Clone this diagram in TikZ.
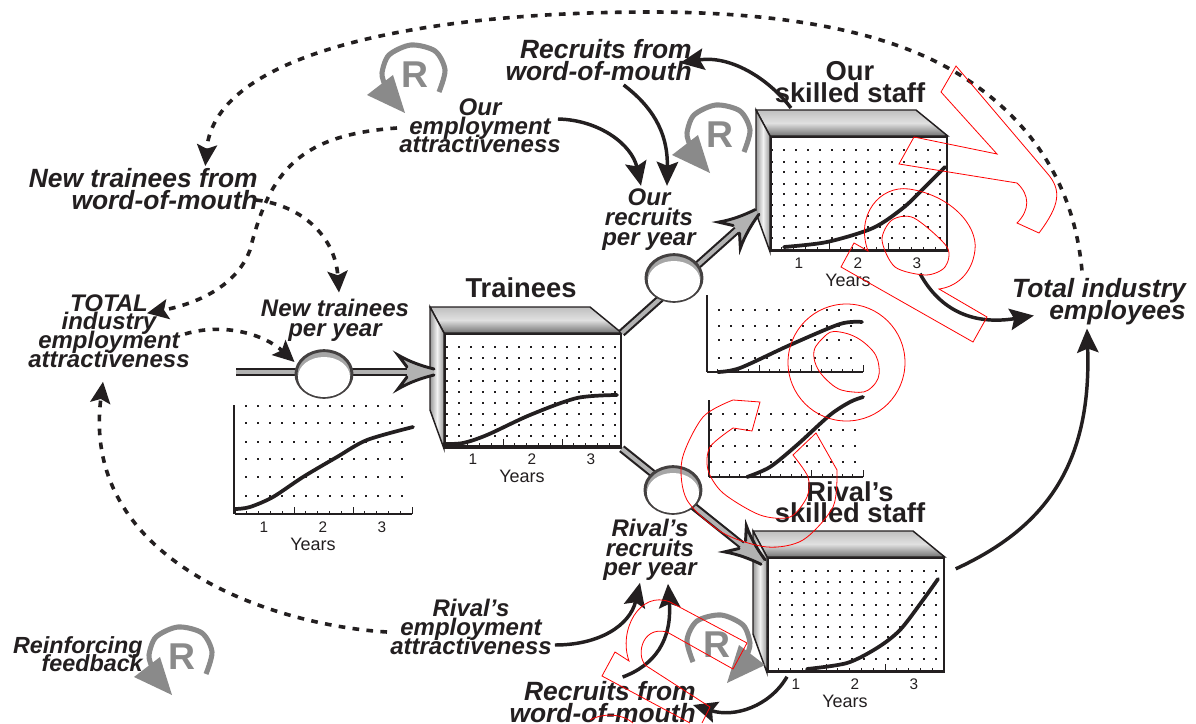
\documentclass[tikz,border=0pt]{standalone}
\usepackage{fontspec}
\setmainfont{Liberation Sans}
\usetikzlibrary{arrows.meta,calc,shapes.geometric}
\definecolor{ink}{HTML}{231F20}
\definecolor{signgray}{HTML}{8A8A8A}
\lineskiplimit=-30pt
\newcommand{\dotgrid}[2]{\foreach \yy in {#2} \foreach \xx in {#1} \fill[ink] (\xx-1.2,\yy-1.2) rectangle ++(2.5,2.5);}
\newcommand{\tickline}[3]{%
  \draw[ink, line width=1.3pt] (#1,#3) -- (#2,#3);
  \foreach \t in {0,...,15} {
    \pgfmathsetmacro{\tx}{#1+(#2-#1)*\t/15}
    \pgfmathsetmacro{\th}{ifthenelse(mod(\t,5)==0,7,3)}
    \draw[ink, line width=0.6pt] (\tx,#3) -- ++(0,-\th);
  }}
\newcommand{\yearscale}[3]{%
  \tickline{#2}{#2+177}{#3}
  \node[digit] (#1d1) at (#2+29,#3+13) {1};
  \node[digit] (#1d2) at (#2+88,#3+13) {2};
  \node[digit] (#1d3) at (#2+147,#3+13) {3};
  \node[yearlab] (#1yr) at (#2+78,#3+30) {Years};}
\newcommand{\stockbox}[3]{%
  \node[stockface] (#1) at (#2,#3) {};
  \draw[topface] (#1.north west) -- ++(-14,-26) -- ++(160,0) -- (#1.north east) -- cycle;
  \draw[sideface] (#1.north west) -- ++(-14,-26) -- ++(0,103) -- (#1.south west) -- cycle;}
\newcommand{\valvering}[3]{%
  \node[valveout] (#1) at (#2,#3) {};
  \node[valvein] (#1in) at (#2,#3+3) {};}
\newcommand{\reinfsign}[3]{%
  \pic[xscale=#3] at (#2) {reinfarrow};
  \node[reinftxt] (#1) at (#2) {R};}
\begin{document}
\begin{tikzpicture}[x=0.75pt, y=-0.75pt,
  flowtxt/.style={font=\bfseries\itshape\fontsize{18}{14}\selectfont, align=center, text=ink, inner sep=0pt},
  bigtxt/.style={font=\bfseries\itshape\fontsize{19.8}{16.5}\selectfont, align=right, anchor=east, text=ink, inner sep=0pt},
  stocktxt/.style={font=\bfseries\fontsize{20.5}{16}\selectfont, align=center, text=ink, inner sep=0pt},
  digit/.style={font=\fontsize{11.5}{12}\selectfont, text=ink, inner sep=0pt},
  yearlab/.style={font=\fontsize{13.5}{14}\selectfont, text=ink, inner sep=0pt},
  reinftxt/.style={font=\bfseries\fontsize{28}{28}\selectfont, text=signgray, inner sep=0pt},
  stockface/.style={rectangle, anchor=north west, draw=ink, line width=1.3pt, fill=white, inner sep=0pt, minimum width=132pt, minimum height=85.5pt},
  topface/.style={draw=ink, line width=1.1pt, top color=black!25, bottom color=black!55, middle color=black!12},
  sideface/.style={draw=ink, line width=1.1pt, left color=black!40, right color=black!40, middle color=black!5},
  valveout/.style={ellipse, draw=ink!85, line width=2.2pt, fill=black!35, inner sep=0pt, minimum width=42pt, minimum height=35pt},
  valvein/.style={ellipse, fill=white, inner sep=0pt, minimum width=39pt, minimum height=30pt},
  flowpipe/.style={draw=ink, line width=1.6pt, double=black!30, double distance=3pt},
  headline/.style={draw=ink, line width=2.2pt, line cap=round},
  curveline/.style={draw=ink, line width=2.8pt, line cap=round},
  solidlink/.style={draw=ink, line width=2.6pt, -{Stealth[length=18pt,width=16pt,inset=3pt]}},
  dashlink/.style={draw=ink, line width=2.7pt, dash pattern=on 5pt off 5.5pt, -{Stealth[length=16pt,width=15pt,inset=3pt]}},
  redline/.style={draw=red, line width=0.6pt},
  flowhead/.pic={\fill[black!30] (0,-3) .. controls (-12,-6) and (-24,-10) .. (-36,-17) -- (-27,-5) -- (-27,5) -- (-36,17) .. controls (-24,10) and (-12,6) .. (0,3) -- cycle;
    \draw[headline] (0,-3) .. controls (-12,-6) and (-24,-10) .. (-36,-17) -- (-27,-5);
    \draw[headline] (0,3) .. controls (-12,6) and (-24,10) .. (-36,17) -- (-27,5);},
  reinfarrow/.pic={\draw[draw=signgray, line width=3.8pt] plot[smooth] coordinates {(24,17) (30,-5) (20,-24) (-4,-30) (-26,-20) (-33,-2) (-30,10)};
    \fill[signgray] (-22,0) -- (-48,20) -- (-10,38) -- cycle;}]
\useasboundingbox (0,0) rectangle (1196,724);
% stocks, front face first and then their two shaded faces
\stockbox{trainees}{444}{333}
\stockbox{ourstaff}{770}{136}
\stockbox{rivalstaff}{767}{557}
\node[stocktxt] (traineeslab) at (521,288) {Trainees};
\node[stocktxt] (ourlab) at (850,82) {Our\\skilled staff};
\node[stocktxt] (rivallab) at (850,502) {Rival's\\skilled staff};
% charts
\dotgrid{447,459,...,615}{347,358,369,381,392,403,414,425,436}
\dotgrid{772,784,...,942}{150,162,172,184,194,205,216,227,238}
\dotgrid{768,780,...,940}{571,582,593,605,615,627,637,648,659}
\dotgrid{234,246,...,402}{406,423,442,459,477,496}
\dotgrid{707,719,...,852}{310,326,340,358}
\dotgrid{711,723,...,855}{414,430,446,462}
\yearscale{traineeax}{444}{446}
\yearscale{ourax}{770}{250}
\yearscale{rivalax}{767}{671}
\yearscale{newax}{235}{514}
\tickline{707}{863}{372}
\tickline{709}{863}{477}
\draw[ink, line width=0.9pt] (234,405) -- (234,514);
\draw[ink, line width=0.9pt] (707,295) -- (707,372);
\draw[ink, line width=0.9pt] (709,400) -- (709,477);
\draw[curveline] plot[smooth] coordinates {(236,509) (250,507) (273,497) (303,477) (337,457) (367,440) (413,427)};
\draw[curveline] plot[smooth] coordinates {(444,444) (463,443) (487,435) (530,415) (577,398) (617,395)};
\draw[curveline] plot[smooth] coordinates {(784,247) (827,242) (873,228) (903,208) (922,190) (945,167)};
\draw[curveline] plot[smooth] coordinates {(807,669) (847,663) (877,648) (900,630) (923,600) (938,579)};
\draw[curveline] plot[smooth] coordinates {(718,372) (740,368) (790,345) (840,324) (862,322)};
\draw[curveline] plot[smooth] coordinates {(747,477) (770,467) (797,445) (830,415) (850,402) (863,397)};
% pipes with their valves
\coordinate (inflow) at (236,372);
\coordinate (tipnew) at (434,372);
\coordinate (tipour) at (757,212);
\coordinate (tiprival) at (763,562);
\draw[flowpipe] (inflow) -- (tipnew);
\draw[flowpipe] (trainees.north east) -- (tipour);
\draw[flowpipe] (trainees.south east) -- (tiprival);
\valvering{newvalve}{324}{374}
\valvering{ourvalve}{674}{278}
\valvering{rivalvalve}{673}{490}
\pic at (tipnew) {flowhead};
\pic[rotate=40] at (tipour) {flowhead};
\pic[rotate=-40] at (tiprival) {flowhead};
% labels
\node[bigtxt] (ourword) at (692,60) {Recruits from\\word-of-mouth};
\node[bigtxt] (rivalword) at (696,702) {Recruits from\\word-of-mouth};
\node[bigtxt] (newword) at (258,189) {New trainees from\\word-of-mouth};
\node[flowtxt] (ourattr) at (480,126) {Our\\employment\\attractiveness};
\node[flowtxt] (rivalattr) at (471,627) {Rival's\\employment\\attractiveness};
\node[flowtxt] (totalattr) at (109,331) {TOTAL\\industry\\employment\\attractiveness};
\node[flowtxt, font=\bfseries\itshape\fontsize{18}{15}\selectfont] (ourrec) at (649,220) {Our\\recruits\\per year};
\node[flowtxt, font=\bfseries\itshape\fontsize{18}{14.5}\selectfont] (rivalrec) at (650,550) {Rival's\\recruits\\per year};
\node[flowtxt, font=\bfseries\itshape\fontsize{18}{15}\selectfont] (newrec) at (335,320) {New trainees\\per year};
\node[bigtxt] (totalemp) at (1186,302) {Total industry\\employees};
\node[flowtxt, align=right, anchor=east, font=\bfseries\itshape\fontsize{17.5}{13.5}\selectfont] (reinflab) at (143,654) {Reinforcing\\feedback};
% solid links
\draw[solidlink] ($(ourstaff.north west)+(21,-28)$) .. controls (768,78) and (730,55) .. ($(ourword.east)+(-12,3)$);
\draw[solidlink] ($(ourword.south)+(25,4)$) .. controls (650,105) and (668,130) .. ($(ourrec.north)+(18,-3)$);
\draw[solidlink] ($(ourattr.east)+(-3,-7)$) .. controls (600,120) and (632,145) .. ($(ourrec.north)+(-8,-3)$);
\draw[solidlink] ($(ouraxd3.south)+(3,5)$) .. controls (941,312) and (975,325) .. ($(totalemp.south west)+(22,-10)$);
\draw[solidlink] ($(rivalstaff.east)+(11,-46)$) .. controls (1040,530) and (1092,470) .. ($(totalemp.south)+(-12,3)$);
\draw[solidlink] ($(rivalstaff.south west)+(20,4)$) .. controls (770,706) and (735,718) .. ($(rivalword.east)+(-3,3)$);
\draw[solidlink] ($(rivalword.north)+(20,-4)$) .. controls (655,665) and (672,640) .. ($(rivalrec.south)+(18,3)$);
\draw[solidlink] ($(rivalattr.east)+(3,18)$) .. controls (600,645) and (630,625) .. ($(rivalrec.south)+(-10,2)$);
% dashed links
\draw[dashlink] ($(totalemp.north)+(-17,-8)$) .. controls (1075,195) and (1040,125) .. (960,75) .. controls (880,25) and (760,12) .. (650,12) .. controls (430,12) and (215,50) .. ($(newword.north)+(62,-2)$);
\draw[dashlink] ($(ourattr.west)+(-2,2)$) .. controls (300,135) and (270,170) .. (250,250) .. controls (235,290) and (190,305) .. ($(totalattr.north)+(38,19)$);
\draw[dashlink] ($(newword.east)+(-2,11)$) .. controls (300,205) and (335,235) .. ($(newrec.north)+(4,-6)$);
\draw[dashlink] ($(totalattr.east)+(-5,3)$) .. controls (225,322) and (265,335) .. ($(newvalve.west)+(0,-12)$);
\draw[dashlink] ($(rivalattr.west)+(-3,5)$) .. controls (270,625) and (80,560) .. ($(totalattr.south)+(-6,14)$);
% reinforcing signs
\coordinate (signtop) at (415,75);
\coordinate (signour) at (720,135);
\coordinate (signrival) at (717,645);
\coordinate (signkey) at (182,657);
\reinfsign{rtop}{signtop}{1}
\reinfsign{rour}{signour}{1}
\reinfsign{rrival}{signrival}{-1}
\reinfsign{rkey}{signkey}{1}
% red outline letters
\draw[redline] (956,66) -- (941,92) -- (997,154) -- (914,137) -- (899,164) -- (1017,183) .. controls (1030,195) and (1030,210) .. (1017,223) -- (1039,233) .. controls (1060,205) and (1062,190) .. (1047,173) -- cycle;
\draw[redline] (854,243) -- (868,251) .. controls (855,215) and (880,185) .. (909,189) .. controls (950,195) and (978,225) .. (975,250) .. controls (972,275) and (955,287) .. (939,289) -- (987,317) -- (973,342) -- (841,267) -- cycle;
\draw[redline] plot[smooth cycle] coordinates {(882,240) (892,220) (914,218) (947,247) (945,267) (926,275) (895,267)};
\draw[redline] (846.5,362.5) ellipse (58.5 and 58.5);
\draw[redline] plot[smooth cycle, tension=0.8] coordinates {(814,358) (823,338) (840,332) (867,345) (879,367) (872,387) (853,392) (830,383)};
\draw[redline] (760,402) -- (752,431) -- plot[smooth] coordinates {(733,428) (710,447) (708,470) (723,493) (760,515) (790,517) (807,497) (808,477) (793,455)} -- (816,433) -- plot[smooth] coordinates {(837,470) (833,507) (803,540) (767,547) (723,533) (687,500) (682,460) (703,417) (733,400)} -- cycle;
\draw[redline] (690,723) -- (602,676) -- (615,652) -- (629,661) .. controls (618,630) and (640,590) .. (670,602) -- (747,643) -- (733,669) -- (667,632) .. controls (640,625) and (635,660) .. (648,667) -- (710,707) -- (702,723);
\draw[redline] (590,720) .. controls (600,714) and (620,712) .. (633,723);
\end{tikzpicture}
\end{document}
